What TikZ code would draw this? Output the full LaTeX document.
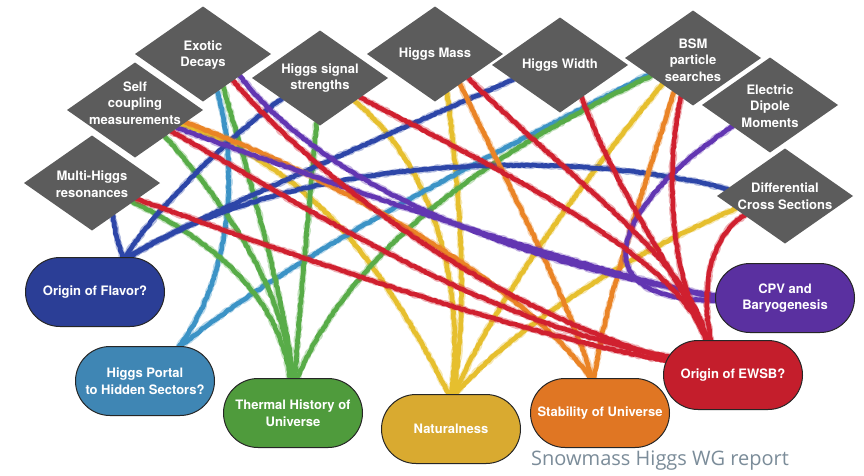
\documentclass[tikz,border=0pt]{standalone}
\usepackage{fontspec}
\setmainfont{TeX Gyre Heros}
\newfontfamily\capfont{Open Sans}
\usetikzlibrary{shapes.geometric,shapes.misc,decorations.pathmorphing,calc}
\pgfdeclarelayer{bg}
\pgfsetlayers{bg,main}
\newcommand\labfont{\fontsize{13}{16.5}\selectfont\bfseries}
\newcommand\crline[2]{\draw[crhalo=#1] #2; \draw[cr=#1] #2;}
\definecolor{dg}{HTML}{5C5C5C}
\definecolor{nfl}{HTML}{2B3E96}
\definecolor{nhp}{HTML}{3F86B4}
\definecolor{nth}{HTML}{4F9B3C}
\definecolor{nna}{HTML}{D9AA30}
\definecolor{nst}{HTML}{E07623}
\definecolor{nrd}{HTML}{C41E2C}
\definecolor{ncp}{HTML}{5A30A0}
\definecolor{lbl}{HTML}{2D46A8}
\definecolor{ltl}{HTML}{3C93C6}
\definecolor{lgr}{HTML}{58AC48}
\definecolor{lye}{HTML}{E6BF2E}
\definecolor{lor}{HTML}{EA8426}
\definecolor{lre}{HTML}{D0202F}
\definecolor{lpu}{HTML}{6236B2}
\definecolor{capc}{HTML}{7B8C99}
\begin{document}
\begin{tikzpicture}[x=1pt,y=-1pt,
  dia/.style={diamond, fill=dg, minimum width=136pt, minimum height=95pt, inner sep=0pt, outer sep=0pt},
  pill/.style={rounded rectangle, draw=black!85, line width=1pt, minimum width=139pt, minimum height=69pt, inner sep=0pt, outer sep=0pt, fill=#1},
  lab/.style={text=white, align=center, font=\labfont, inner sep=0pt},
  cr/.style={draw=#1, line width=4.6pt, line cap=round, line join=round, decorate,
    decoration={random steps, segment length=2.2pt, amplitude=0.55pt}},
  crhalo/.style={draw=#1, opacity=0.35, line width=6.6pt, line cap=round, line join=round, decorate,
    decoration={random steps, segment length=2.6pt, amplitude=0.9pt}},
]
\useasboundingbox (0,0) rectangle (864,475);

% diamonds
\node[dia] (ed) at (203,54) {};
\node[dia] (sc) at (135,110) {};
\node[dia] (mh) at (92,183) {};
\node[dia] (hs) at (320,78) {};
\node[dia] (hm) at (435,54) {};
\node[dia] (hw) at (560,65) {};
\node[dia] (bsm) at (693,58) {};
\node[dia] (edm) at (770,105) {};
\node[dia] (dcs) at (785,196) {};
\node[lab] (edt) at (203,55) {Exotic\\Decays};
\node[lab] (sct) at (135,103) {Self\\coupling\\measurements};
\node[lab] (mht) at (92,184) {Multi-Higgs\\resonances};
\node[lab] (hst) at (hs) {Higgs signal\\strengths};
\node[lab] (hmt) at (hm) {Higgs Mass};
\node[lab] (hwt) at (hw) {Higgs Width};
\node[lab] (bsmt) at (693,60) {BSM\\particle\\searches};
\node[lab] (edmt) at (770,106) {Electric\\Dipole\\Moments};
\node[lab] (dcst) at (dcs) {Differential\\Cross Sections};

% outcome nodes
\node[pill=nfl] (fl) at (95,292) {};
\node[pill=nhp] (hp) at (145,381) {};
\node[pill=nth] (th) at (293,413) {};
\node[pill=nna] (na) at (451,429) {};
\node[pill=nst] (st) at (600,413) {};
\node[pill=nrd] (ew) at (733,375) {};
\node[pill=ncp] (cp) at (785,298) {};
\node[lab] (flt) at (fl) {Origin of Flavor?};
\node[lab] (hpt) at (hp) {Higgs Portal\\to Hidden Sectors?};
\node[lab] (tht) at (th) {Thermal History of\\Universe};
\node[lab] (nat) at (na) {Naturalness};
\node[lab] (stt) at (st) {Stability of Universe};
\node[lab] (ewt) at (ew) {Origin of EWSB?};
\node[lab] (cpt) at (cp) {CPV and\\Baryogenesis};

\node[font=\capfont\fontsize{20}{24}\selectfont, text=capc, inner sep=0pt] (cap) at (660,461) {Snowmass Higgs WG report};

\begin{pgfonlayer}{bg}
\fill[white] (0,0) rectangle (864,475);
% yellow -> Naturalness
\crline{lye}{($(sc.east)!0.31!(sc.south)$) .. controls (300,165) and (370,240) .. ([xshift=-2pt]na.north)}
\crline{lye}{($(hs.east)!0.49!(hs.south)$) .. controls (440,170) and (465,300) .. (na.north)}
\crline{lye}{($(hm.east)!0.82!(hm.south)$) .. controls (458,180) and (470,300) .. ([xshift=2pt]na.north)}
\crline{lye}{($(bsm.west)!0.55!(bsm.south)$) .. controls (600,160) and (500,290) .. ([xshift=3pt]na.north)}
\crline{lye}{($(dcs.west)!0.27!(dcs.south)$) .. controls (640,250) and (520,320) .. ([xshift=4pt]na.north)}
% teal -> Higgs Portal
\crline{ltl}{($(ed.east)!0.79!(ed.south)$) .. controls (240,170) and (230,280) .. ([xshift=34pt]hp.north)}
\crline{ltl}{($(bsm.west)!0.35!(bsm.south)$) .. controls (500,150) and (300,250) .. ([xshift=35pt]hp.north)}
% green -> Thermal
\crline{lgr}{($(mh.east)!0.40!(mh.south)$) .. controls (220,245) and (280,300) .. ([xshift=-3pt]th.north)}
\crline{lgr}{($(sc.east)!0.56!(sc.south)$) .. controls (240,220) and (285,300) .. ([xshift=-1pt]th.north)}
\crline{lgr}{($(ed.east)!0.70!(ed.south)$) .. controls (250,180) and (285,300) .. (th.north)}
\crline{lgr}{($(hs.west)!0.95!(hs.south)$) .. controls (310,200) and (300,300) .. ([xshift=2pt]th.north)}
\crline{lgr}{($(bsm.west)!0.38!(bsm.south)$) .. controls (520,140) and (360,230) .. ([xshift=4pt]th.north)}
% blue -> Flavor
\crline{lbl}{($(mh.east)!0.69!(mh.south)$) .. controls (115,235) and (120,248) .. ([xshift=28pt]fl.north)}
\crline{lbl}{($(hs.west)!0.44!(hs.south)$) .. controls (230,135) and (150,215) .. ([xshift=30pt]fl.north)}
\crline{lbl}{($(hw.west)!0.31!(hw.south)$) .. controls (380,138) and (190,220) .. ([xshift=32pt]fl.north)}
\crline{lbl}{($(dcs.west)!0.15!(dcs.north)$) .. controls (580,150) and (300,150) .. ([xshift=34pt]fl.north)}
% orange -> Stability
\crline{lor}{($(sc.east)!0.26!(sc.south)$) .. controls (330,175) and (520,280) .. ([xshift=-9pt]st.north)}
\crline{lor}{($(hm.east)!0.63!(hm.south)$) .. controls (500,170) and (570,300) .. ([xshift=-8pt]st.north)}
\crline{lor}{($(bsm.west)!0.72!(bsm.south)$) .. controls (650,170) and (605,300) .. ([xshift=-6pt]st.north)}
% purple -> CPV
\crline{lpu}{($(ed.east)!0.46!(ed.south)$) .. controls (320,180) and (500,260) .. (cp.178)}
\crline{lpu}{($(sc.east)!0.38!(sc.south)$) .. controls (350,190) and (550,260) .. (cp.180)}
\crline{lpu}{($(edm.west)!0.45!(edm.south)$) .. controls (620,200) and (570,300) .. (cp.182)}
% red -> EWSB
\crline{lre}{($(ed.east)!0.56!(ed.south)$) .. controls (310,170) and (470,300) .. (ew.166)}
\crline{lre}{($(sc.east)!0.46!(sc.south)$) .. controls (280,190) and (470,320) .. (ew.164)}
\crline{lre}{($(mh.east)!0.34!(mh.south)$) .. controls (280,250) and (500,330) .. (ew.168)}
\crline{lre}{($(hs.east)!0.41!(hs.south)$) .. controls (520,180) and (680,260) .. ([xshift=-27pt]ew.north)}
\crline{lre}{($(hm.east)!0.51!(hm.south)$) .. controls (570,180) and (690,260) .. ([xshift=-26pt]ew.north)}
\crline{lre}{($(hw.east)!0.68!(hw.south)$) .. controls (615,190) and (680,280) .. ([xshift=-25pt]ew.north)}
\crline{lre}{($(bsm.west)!0.82!(bsm.south)$) .. controls (660,200) and (680,300) .. ([xshift=-24pt]ew.north)}
\crline{lre}{($(dcs.west)!0.41!(dcs.south)$) .. controls (710,235) and (700,290) .. ([xshift=-22pt]ew.north)}
\end{pgfonlayer}
\end{tikzpicture}
\end{document}
